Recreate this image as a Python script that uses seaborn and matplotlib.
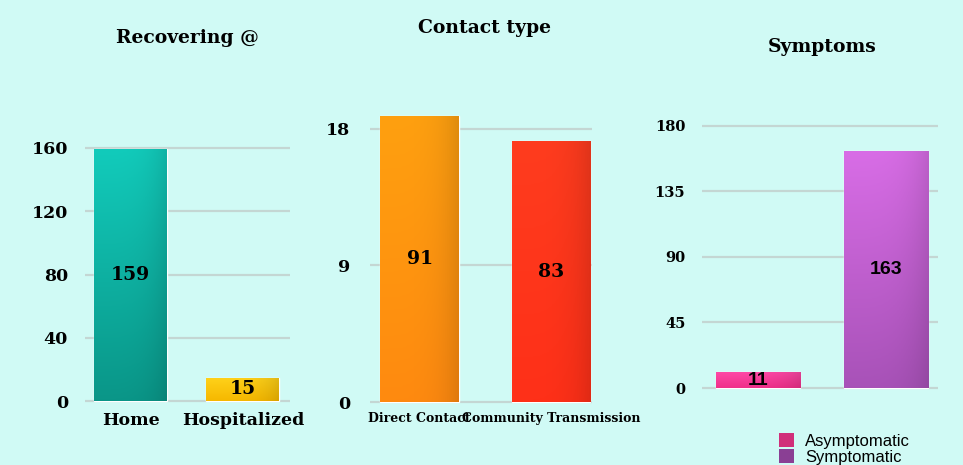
import numpy as np
import pandas as pd
import matplotlib.pyplot as plt
import seaborn as sns
from matplotlib.colors import to_rgb
from matplotlib.patches import Patch

# =======================
# Data
# =======================
recover_cats = ["Home", "Hospitalized"]
recover_vals = [159, 15]
recover_ticks = [0, 40, 80, 120, 160]

contact_cats = ["Direct Contact", "Community Transmission"]
contact_vals = [91, 83]
contact_tick_labels = ["0", "9", "18"]   # axis as printed on the original

symptom_cats = ["Asymptomatic", "Symptomatic"]
symptom_vals = [11, 163]
symptom_ticks = [0, 45, 90, 135, 180]

# bar colours (top, bottom) for a bit of 3D shading
recover_top = ["#12cbbb", "#ffd21a"]
recover_bot = ["#0a9688", "#f6b800"]
contact_top = ["#ffa010", "#ff3c1e"]
contact_bot = ["#ff8a10", "#ff3018"]
symptom_top = ["#ff4aa8", "#d86de6"]
symptom_bot = ["#f0308a", "#a852b8"]
legend_colors = ["#d02f7a", "#8a3f94"]

BG = "#d0faf5"
GRID = "#c4d6d3"

sns.set_style("white")
plt.rcParams["font.family"] = ["DejaVu Serif"]
plt.rcParams["text.color"] = "black"
plt.rcParams["xtick.color"] = "black"
plt.rcParams["ytick.color"] = "black"


def shade_bars(ax, tops, bots):
    # vertical gradient + darker right edge, clipped to each bar
    for patch, ct, cb in zip(ax.patches, tops, bots):
        x0, y0 = patch.get_x(), patch.get_y()
        w, h = patch.get_width(), patch.get_height()
        t = np.linspace(0, 1, 80)[:, None, None]        # 0 bottom -> 1 top
        s = np.linspace(0, 1, 40)[None, :, None]
        img = np.array(to_rgb(cb)) * (1 - t) + np.array(to_rgb(ct)) * t
        img = img * (1 - 0.12 * s ** 4)
        img = np.broadcast_to(img, (80, 40, 3)).clip(0, 1)
        im = ax.imshow(img, extent=[x0, x0 + w, y0, y0 + h], origin="lower",
                       aspect="auto", zorder=2.5)
        im.set_clip_path(patch)


def style_axis(ax):
    ax.set_facecolor(BG)
    for sp in ax.spines.values():
        sp.set_visible(False)
    ax.grid(axis="y", color=GRID, linewidth=1.6)
    ax.set_axisbelow(True)
    ax.tick_params(length=0, colors="black")
    ax.set_xlabel("")
    ax.set_ylabel("")


fig = plt.figure(figsize=(9.63, 4.65), dpi=100)
fig.patch.set_facecolor(BG)

# =======================
# Panel 1: Recovering @
# =======================
ax1 = fig.add_axes([0.088, 0.120, 0.213, 0.596])
df1 = pd.DataFrame({"cat": recover_cats, "val": recover_vals})
sns.barplot(data=df1, x="cat", y="val", hue="cat", palette=recover_bot,
            width=0.65, legend=False, ax=ax1, saturation=1)
shade_bars(ax1, recover_top, recover_bot)
style_axis(ax1)
ax1.set_ylim(-5, 170)
ax1.set_xlim(-0.41, 1.42)
ax1.set_yticks(recover_ticks)
ax1.tick_params(axis="y", labelsize=12.5, pad=12)
ax1.tick_params(axis="x", labelsize=12.5, pad=2)
for lab in ax1.get_xticklabels() + ax1.get_yticklabels():
    lab.set_fontweight("bold")
for c in ax1.containers:
    ax1.bar_label(c, label_type="center", fontsize=13.5, fontweight="bold",
                  color="black", zorder=4)
fig.text(0.195, 0.918, "Recovering @", ha="center", va="center",
         fontsize=13.5, fontweight="bold")

# =======================
# Panel 2: Contact type
# =======================
ax2 = fig.add_axes([0.384, 0.118, 0.2305, 0.667])
df2 = pd.DataFrame({"cat": contact_cats, "val": contact_vals})
sns.barplot(data=df2, x="cat", y="val", hue="cat", palette=contact_bot,
            width=0.6, legend=False, ax=ax2, saturation=1)
shade_bars(ax2, contact_top, contact_bot)
style_axis(ax2)
ax2.set_ylim(-2.5, 96)
ax2.set_xlim(-0.38, 1.31)
top_tick = max(contact_vals) * 0.955   # top gridline sits just below the tallest bar
ax2.set_yticks(np.linspace(0, top_tick, len(contact_tick_labels)))
ax2.set_yticklabels(contact_tick_labels)
ax2.tick_params(axis="y", labelsize=12.5, pad=14)
ax2.tick_params(axis="x", labelsize=9, pad=1)
for lab in ax2.get_xticklabels() + ax2.get_yticklabels():
    lab.set_fontweight("bold")
for c in ax2.containers:
    ax2.bar_label(c, label_type="center", fontsize=13.5, fontweight="bold",
                  color="black", zorder=4)
fig.text(0.503, 0.940, "Contact type", ha="center", va="center",
         fontsize=13.5, fontweight="bold")

# =======================
# Panel 3: Symptoms
# =======================
ax3 = fig.add_axes([0.729, 0.153, 0.245, 0.600])
df3 = pd.DataFrame({"cat": symptom_cats, "val": symptom_vals})
sns.barplot(data=df3, x="cat", y="val", hue="cat", palette=symptom_bot,
            width=0.66, legend=False, ax=ax3, saturation=1)
shade_bars(ax3, symptom_top, symptom_bot)
style_axis(ax3)
ax3.set_ylim(-4, 187.5)
ax3.set_xlim(-0.44, 1.41)
ax3.set_yticks(symptom_ticks)
ax3.set_xticks([])
ax3.tick_params(axis="y", labelsize=10.5, pad=12)
for lab in ax3.get_yticklabels():
    lab.set_fontweight("bold")
for c in ax3.containers:
    ax3.bar_label(c, label_type="center", fontsize=14, family="Liberation Sans",
                  fontweight="bold", color="black", zorder=4)
fig.text(0.854, 0.899, "Symptoms", ha="center", va="center",
         fontsize=13.5, fontweight="bold")

handles = [Patch(facecolor=c, edgecolor="none") for c in legend_colors]
fig.legend(handles, symptom_cats, loc="upper left", bbox_to_anchor=(0.800, 0.086),
           frameon=False, handlelength=0.9, handleheight=0.9, labelspacing=0.0,
           borderpad=0, handletextpad=0.7,
           prop={"family": "Liberation Sans", "size": 12})

fig.savefig("out.png", dpi=100, facecolor=BG)
